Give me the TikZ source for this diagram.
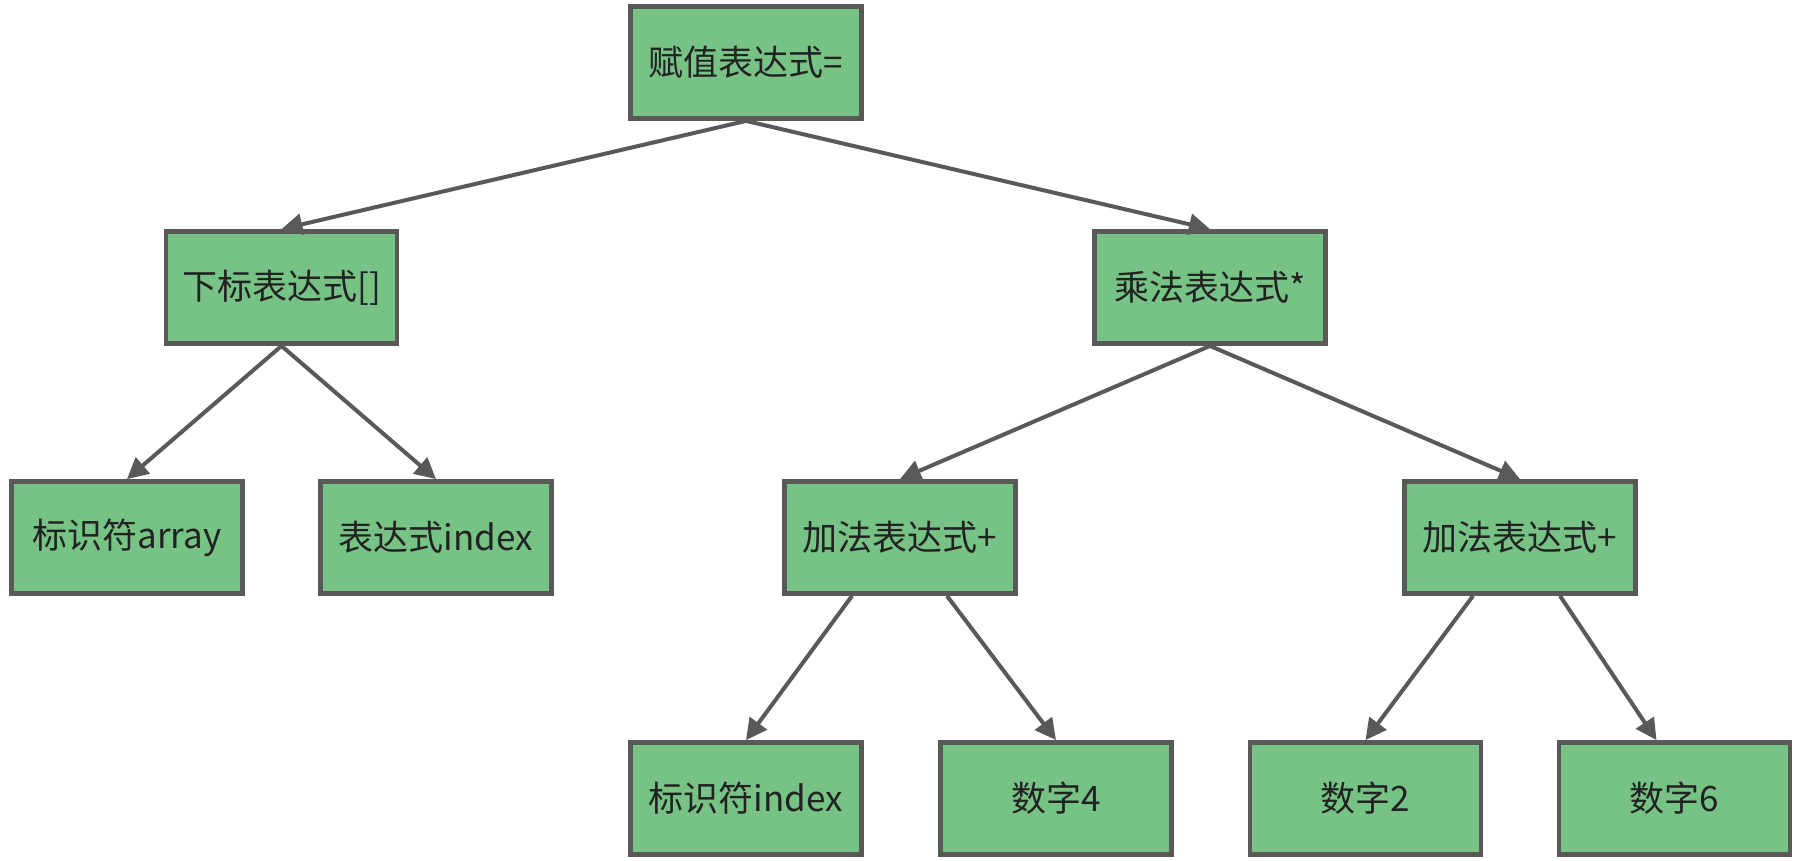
\documentclass[tikz,border=0pt]{standalone}
\usepackage{fontspec}
\newfontfamily\cjk{Noto Sans CJK SC}
\usetikzlibrary{arrows.meta,calc}
\definecolor{boxfill}{HTML}{77C386}
\definecolor{edgegray}{HTML}{595959}
\definecolor{txt}{HTML}{222222}
\begin{document}
\begin{tikzpicture}[x=0.5pt,y=-0.5pt,
  treebox/.style={draw=edgegray,fill=boxfill,line width=2.4pt,minimum width=115.5pt,minimum height=56pt,inner sep=0pt,font=\cjk\fontsize{17.5pt}{20pt}\selectfont,text=txt},
  link/.style={draw=edgegray,line width=2pt,-{Triangle[length=10.5pt,width=10.5pt]}}]
\useasboundingbox (0,0) rectangle (1806,861);
\node[treebox] (root) at (746,62.5) {赋值表达式=};
\node[treebox] (sub) at (281.5,287.5) {下标表达式[]};
\node[treebox] (mul) at (1210,287.5) {乘法表达式*};
\node[treebox] (arr) at (127,537.5) {标识符array};
\node[treebox] (idx) at (436,537.5) {表达式index};
\node[treebox] (addA) at (900,537.5) {加法表达式+};
\node[treebox] (addB) at (1520,537.5) {加法表达式+};
\node[treebox] (ident) at (746,798.5) {标识符index};
\node[treebox] (n4) at (1056,798.5) {数字4};
\node[treebox] (n2) at (1365.5,798.5) {数字2};
\node[treebox] (n6) at (1674.5,798.5) {数字6};
\draw[link] (root.south) -- (sub.north);
\draw[link] (root.south) -- (mul.north);
\draw[link] (sub.south) -- (arr.north);
\draw[link] (sub.south) -- (idx.north);
\draw[link] (mul.south) -- (addA.north);
\draw[link] (mul.south) -- (addB.north);
\draw[link] ([xshift=-24pt]addA.south) -- (ident.north);
\draw[link] ([xshift=23.5pt]addA.south) -- (n4.north);
\draw[link] ([xshift=-23.5pt]addB.south) -- (n2.north);
\draw[link] ([xshift=20pt]addB.south) -- ([xshift=-9pt]n6.north);
\end{tikzpicture}
\end{document}
